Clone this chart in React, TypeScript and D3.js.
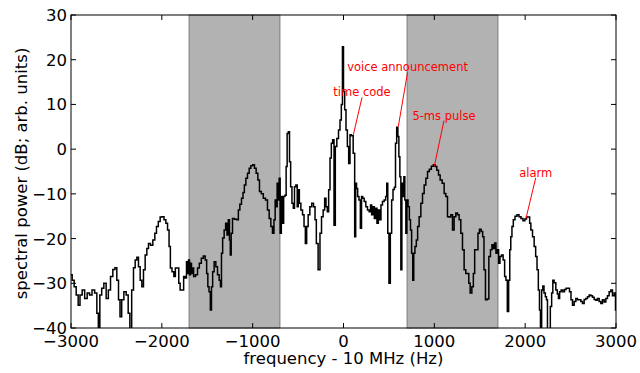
import React from "react";
import * as d3 from "d3";

// Spectrum around the 10 MHz carrier: bin centre (Hz offset) and power (dB).
const FREQ_HZ = [
  -3000, -2974, -2956, -2930, -2912, -2890, -2864, -2835, -2809, -2783, -2754, -2725, -2706, -2692, -2673, -2651,
  -2626, -2600, -2578, -2552, -2527, -2505, -2486, -2468, -2453, -2431, -2405, -2380, -2361, -2343, -2321, -2303,
  -2284, -2266, -2248, -2229, -2211, -2193, -2174, -2156, -2138, -2112, -2086, -2068, -2050, -2028, -2009, -1987,
  -1965, -1946, -1928, -1913, -1899, -1877, -1858, -1844, -1819, -1808, -1789, -1767, -1753, -1734, -1723, -1712,
  -1701, -1690, -1679, -1668, -1657, -1643, -1616, -1598, -1576, -1554, -1532, -1514, -1499, -1488, -1473, -1459,
  -1448, -1433, -1415, -1396, -1378, -1360, -1349, -1338, -1323, -1305, -1290, -1275, -1261, -1250, -1242, -1231,
  -1213, -1187, -1165, -1150, -1132, -1114, -1099, -1084, -1066, -1048, -1029, -1011, -989, -971, -952, -934,
  -916, -894, -872, -846, -828, -809, -791, -773, -758, -747, -736, -725, -714, -703, -692, -677,
  -666, -652, -637, -626, -615, -600, -589, -575, -560, -545, -534, -515, -504, -493, -479, -460,
  -442, -427, -413, -398, -380, -361, -339, -321, -306, -292, -267, -251, -233, -215, -200, -185,
  -171, -156, -141, -127, -112, -97, -83, -64, -46, -31, -17, -6, 6, 20, 35, 50,
  64, 79, 97, 116, 130, 138, 149, 163, 178, 193, 204, 218, 237, 255, 273, 292,
  303, 317, 332, 347, 361, 376, 391, 405, 420, 438, 457, 471, 482, 493, 508, 523,
  537, 553, 567, 578, 593, 604, 615, 626, 637, 648, 659, 670, 681, 692, 703, 718,
  732, 743, 757, 768, 779, 794, 809, 823, 842, 861, 879, 897, 916, 934, 956, 978,
  1000, 1018, 1037, 1055, 1073, 1099, 1117, 1136, 1154, 1172, 1191, 1209, 1227, 1246, 1264, 1282,
  1301, 1319, 1337, 1356, 1374, 1385, 1404, 1422, 1437, 1451, 1473, 1488, 1506, 1525, 1539, 1554,
  1572, 1591, 1609, 1627, 1642, 1657, 1671, 1686, 1701, 1715, 1730, 1748, 1767, 1781, 1796, 1811,
  1825, 1836, 1847, 1862, 1877, 1899, 1921, 1943, 1965, 1987, 2006, 2024, 2046, 2053, 2072, 2090,
  2108, 2123, 2138, 2152, 2163, 2174, 2189, 2200, 2215, 2229, 2240, 2251, 2270, 2284, 2299, 2310,
  2328, 2347, 2361, 2372, 2387, 2405, 2424, 2442, 2460, 2479, 2497, 2512, 2530, 2549, 2567, 2585,
  2604, 2622, 2640, 2659, 2677, 2695, 2714, 2732, 2750, 2769, 2787, 2805, 2824, 2842, 2860, 2879,
  2897, 2915, 2934, 2952, 2970, 2989, 3000,
];

const POWER_DB = [
  -28.1, -29.3, -30.8, -32.6, -34.9, -32.6, -31.5, -33.4, -32.2, -32.6, -31.5, -32.2, -36.7, -41, -32.6, -31.1,
  -30, -33.4, -31.5, -28.5, -26.9, -26.5, -29.3, -33.7, -37.5, -33.7, -31.9, -32.6, -36.7, -41, -31.5, -26.5,
  -24.8, -24.2, -26.3, -29.3, -30.8, -27, -23.7, -22.2, -21.1, -21.5, -20.3, -18.8, -17.3, -16.2, -15.2, -15.1,
  -15.8, -16.6, -18.1, -21.8, -26.6, -27.4, -28.5, -26.6, -26.6, -30, -31.5, -31.5, -28.5, -28.8, -25.2, -27.8,
  -24.8, -28.1, -25.5, -27.8, -26.6, -28.5, -28.1, -26.6, -25.5, -24.4, -23.9, -24.8, -27.8, -30.8, -31.9, -36,
  -30.8, -27.4, -25.2, -26.3, -28.1, -29.3, -30.8, -23.3, -19.9, -18.1, -16.6, -19.2, -15.8, -20.3, -23.7, -18.8,
  -15.5, -15.7, -15.8, -13.6, -12.3, -11, -9.7, -8, -6.5, -5.4, -4.3, -3.7, -3.5, -4.3, -5.4, -6.9,
  -9.5, -10, -11, -11.4, -13.6, -15.5, -17.3, -18.8, -15.8, -11.4, -12.9, -7.6, -11.4, -6.5, -18.8, -10.6,
  -16.6, -10.6, -10.3, -3.9, 3.5, 3.9, -2.8, -8.4, -12.1, -13.2, -8.4, -8, -12.9, -9.1, -12.1, -13.6,
  -14.7, -17.3, -21.1, -17.3, -14.7, -12.9, -12.1, -12.9, -15.8, -21.1, -27, -18.8, -15.1, -13.6, -11, -12.9,
  -14, -9.1, -2, 1.3, 2.1, -17, 0.6, 2.4, 4.3, 6.5, 10, 22.9, 12.9, 8.8, 4.3, 0.6,
  -3.2, 3.2, 3, -0.9, -19.6, -7.6, -8.8, -10.6, -11.4, -17.7, -10.6, -11, -11.7, -12.9, -13.6, -14,
  -12.5, -14.7, -12.9, -15.5, -13.2, -16.6, -13.6, -15.8, -12.5, -11.7, -11.4, -10.6, -7.6, -18.8, -30, -18.8,
  -11.4, -9, -8.5, 1.3, 4.9, 2.8, -1.7, -6.2, -27, -7.6, -10.6, -6.2, -11.4, -18.8, -11.4, -12.9,
  -15.8, -18.1, -23.3, -29.3, -23.3, -21.8, -20.3, -17.3, -15.1, -12.1, -9.9, -8, -6.5, -5, -4.5, -3.8,
  -3.5, -3.9, -4.7, -5.8, -6.9, -7.6, -9.9, -10.6, -15.1, -15.2, -14.7, -18.1, -15.1, -14.3, -14.7, -15.8,
  -18.8, -22.5, -27, -27.8, -27.8, -30, -32.2, -30.8, -27.8, -22.5, -22.5, -18.8, -17.9, -18.4, -19.6, -27,
  -33.7, -33.5, -24, -22.5, -21.4, -22.2, -21, -23.3, -22.5, -25.5, -24, -23.7, -24.8, -28.5, -29.3, -36.3,
  -29.3, -22.5, -19.6, -17.3, -15.8, -15, -14.7, -15.1, -15.5, -16, -15.6, -15.2, -15.2, -16.6, -18.1, -19.6,
  -21.8, -24, -27, -31.5, -36, -41, -31.5, -30.6, -32.2, -33, -33.7, -41, -41, -35.2, -32.2, -29.3,
  -29.9, -31.5, -32.4, -33.4, -31.9, -31.5, -31.9, -31.4, -31.1, -31.1, -31.9, -33.7, -34.9, -34.1, -33.4, -33.7,
  -33.7, -34.1, -34.5, -33.6, -33.4, -33, -32.6, -32.8, -33.1, -33.6, -33.8, -33.4, -34.1, -34.5, -33.7, -34.2,
  -33.4, -32.8, -31.9, -31.5, -32.8, -32.2, -36,
];

// Shaded frequency bands (Hz).
const BAND_START_HZ = [-1700, 700];
const BAND_END_HZ = [-700, 1700];

const X_TICKS = [-3000, -2000, -1000, 0, 1000, 2000, 3000];
const Y_TICKS = [-40, -30, -20, -10, 0, 10, 20, 30];

// Annotations: label, pointed-at (Hz, dB), and label centre / baseline (Hz, dB).
const ANN_LABELS = ["time code", "voice announcement", "5-ms pulse", "alarm"];
const ANN_TARGET_HZ = [108, 603, 1000, 2009];
const ANN_TARGET_DB = [3.2, 5.0, -3.8, -15.5];
const ANN_TEXT_HZ = [204, 705, 1106, 2116];
const ANN_TEXT_DB = [11.8, 17.4, 6.6, -6.2];

const WIDTH = 640;
const HEIGHT = 373;
const M = { left: 71, right: 24, top: 15, bottom: 45 };
const FONT = "'DejaVu Sans', sans-serif";

const fmt = (v: number) => (v < 0 ? "\u2212" + Math.abs(v) : String(v));

export default function App() {
  const x = d3.scaleLinear().domain([-3000, 3000]).range([M.left, WIDTH - M.right]);
  const y = d3.scaleLinear().domain([-40, 30]).range([HEIGHT - M.bottom, M.top]);
  const [x0, x1] = x.range();
  const [y0, y1] = y.range();

  const pts: [number, number][] = FREQ_HZ.map((f, i) => [f, POWER_DB[i]]);
  const line = d3
    .line<[number, number]>()
    .x((d) => x(d[0]))
    .y((d) => y(d[1]))
    .curve(d3.curveStep);

  const tickLen = 5;

  return (
    <svg
      width={WIDTH}
      height={HEIGHT}
      style={{ position: "absolute", left: 0, top: 0, display: "block", background: "#fff" }}
      fontFamily={FONT}
    >
      <defs>
        <clipPath id="plot-area">
          <rect x={x0} y={y1} width={x1 - x0} height={y0 - y1} />
        </clipPath>
      </defs>

      {BAND_START_HZ.map((s, i) => (
        <rect
          key={"band" + i}
          x={x(s)}
          y={y1}
          width={x(BAND_END_HZ[i]) - x(s)}
          height={y0 - y1}
          fill="#b2b2b2"
          stroke="#7a7a7a"
          strokeWidth={1}
        />
      ))}

      <path
        d={line(pts) || ""}
        fill="none"
        stroke="#000"
        strokeWidth={1.5}
        strokeLinejoin="miter"
        clipPath="url(#plot-area)"
      />

      {/* annotations */}
      {ANN_LABELS.map((label, i) => {
        const tx = x(ANN_TEXT_HZ[i]);
        const ty = y(ANN_TEXT_DB[i]);
        return (
          <g key={"ann" + i}>
            <line
              x1={tx}
              y1={ty + 1}
              x2={x(ANN_TARGET_HZ[i])}
              y2={y(ANN_TARGET_DB[i])}
              stroke="#ff0000"
              strokeWidth={1}
            />
            <text x={tx} y={ty} textAnchor="middle" fontSize={11.5} fill="#ff0000">
              {label}
            </text>
          </g>
        );
      })}

      {/* frame */}
      <rect x={x0} y={y1} width={x1 - x0} height={y0 - y1} fill="none" stroke="#000" strokeWidth={1} />

      {/* x ticks (inward, bottom and top) */}
      {X_TICKS.map((t) => (
        <g key={"xt" + t}>
          <line x1={x(t)} x2={x(t)} y1={y0} y2={y0 - tickLen} stroke="#000" strokeWidth={1} />
          <line x1={x(t)} x2={x(t)} y1={y1} y2={y1 + tickLen} stroke="#000" strokeWidth={1} />
          <text x={x(t)} y={y0 + 19} textAnchor="middle" fontSize={16.5} fill="#000">
            {fmt(t)}
          </text>
        </g>
      ))}

      {/* y ticks (inward, left and right) */}
      {Y_TICKS.map((t) => (
        <g key={"yt" + t}>
          <line x1={x0} x2={x0 + tickLen} y1={y(t)} y2={y(t)} stroke="#000" strokeWidth={1} />
          <line x1={x1} x2={x1 - tickLen} y1={y(t)} y2={y(t)} stroke="#000" strokeWidth={1} />
          <text x={x0 - 4} y={y(t) + 6} textAnchor="end" fontSize={16.5} fill="#000">
            {fmt(t)}
          </text>
        </g>
      ))}

      <text x={(x0 + x1) / 2} y={364} textAnchor="middle" fontSize={16.5} fill="#000">
        frequency - 10 MHz (Hz)
      </text>
      <text
        transform={`translate(27, ${(y0 + y1) / 2 + 2}) rotate(-90)`}
        textAnchor="middle"
        fontSize={16.5}
        fill="#000"
      >
        spectral power (dB; arb. units)
      </text>
    </svg>
  );
}
